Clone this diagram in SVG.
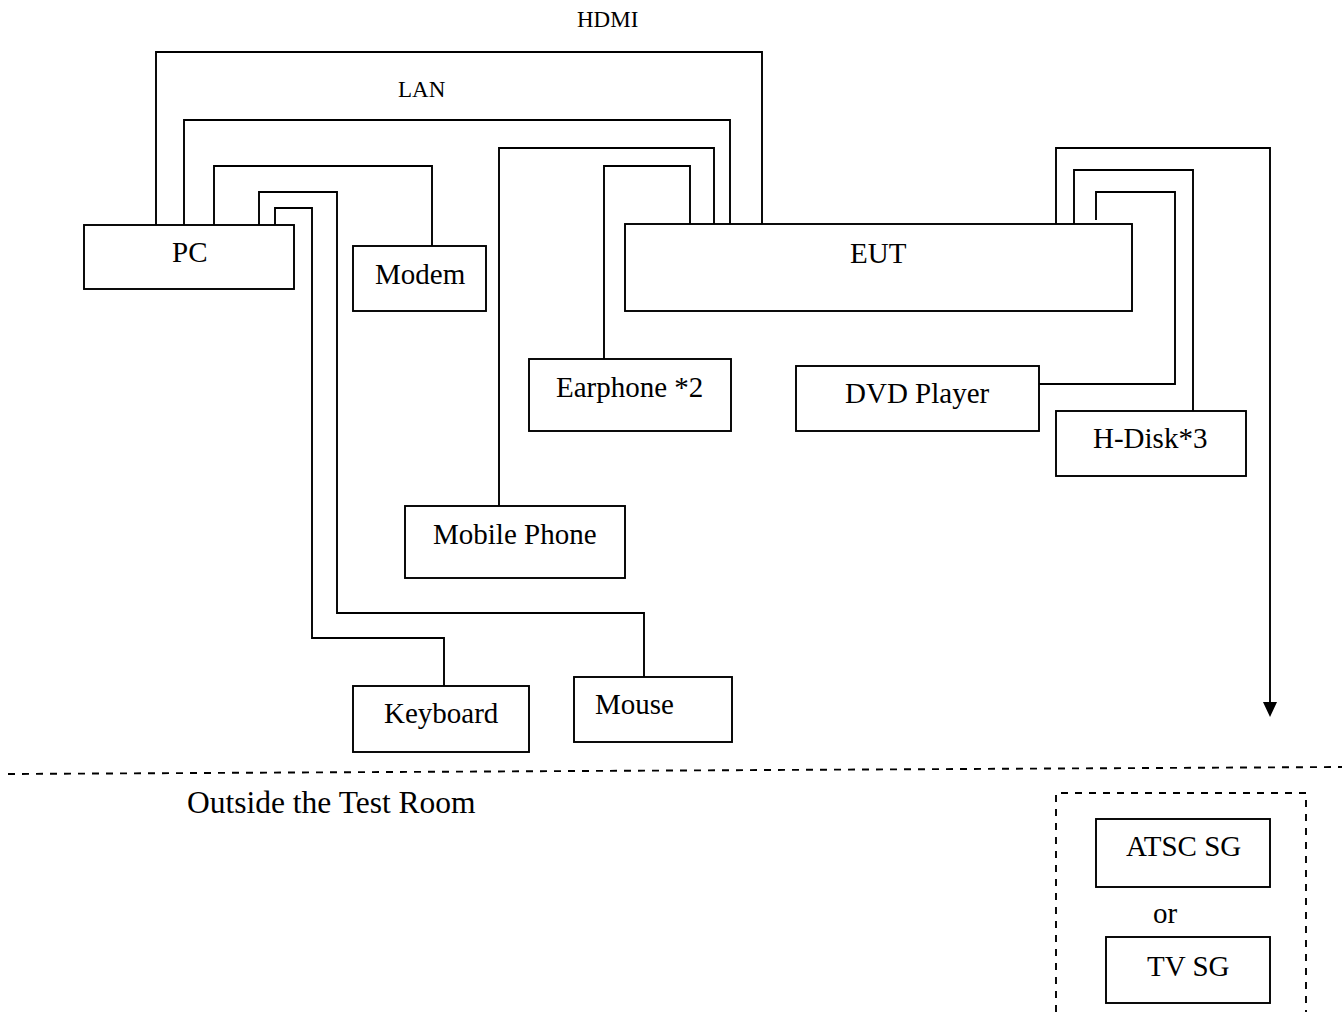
<svg xmlns="http://www.w3.org/2000/svg" width="1342" height="1012" viewBox="0 0 1342 1012">
<style>
  .box { fill: #fff; stroke: #000; stroke-width: 1.9; }
  .wire { fill: none; stroke: #000; stroke-width: 1.9; }
  .dash { fill: none; stroke: #000; stroke-width: 1.9; stroke-dasharray: 7 7; }
  .lbl { font-family: "Liberation Serif", "Times New Roman", serif; font-size: 29px; fill: #000; }
  .small { font-family: "Liberation Serif", "Times New Roman", serif; font-size: 23px; fill: #000; }
</style>
<rect x="0" y="0" width="1342" height="1012" fill="#fff"/>
<g id="connectors">
  <path class="wire" d="M156,225 V52 H762 V224"/>
  <path class="wire" d="M184,225 V120 H730 V224"/>
  <path class="wire" d="M214,225 V166 H432 V246"/>
  <path class="wire" d="M259,225 V192 H337 V613 H644 V677"/>
  <path class="wire" d="M275,225 V208 H312 V638 H444 V686"/>
  <path class="wire" d="M499,506 V148 H714 V224"/>
  <path class="wire" d="M604,359 V166 H690 V224"/>
  <path class="wire" d="M1056,224 V148 H1270 V703"/>
  <polygon points="1263,702 1277,702 1270,717" fill="#000"/>
  <path class="wire" d="M1074,224 V170 H1193 V411"/>
  <path class="wire" d="M1096,220 V192 H1175 V384 H1039"/>
  <text class="small" x="577" y="27">HDMI</text>
  <text class="small" x="398" y="97">LAN</text>
</g>
<g id="boundary">
  <line class="dash" x1="8" y1="774" x2="1342" y2="767"/>
  <text class="lbl" x="187" y="813" style="font-size:31.5px">Outside the Test Room</text>
  <path class="dash" d="M1056,1012 V793 H1306 V1012"/>
</g>
<g id="pc"><rect class="box" x="84" y="225" width="210" height="64"/><text class="lbl" x="172" y="262">PC</text></g>
<g id="modem"><rect class="box" x="353" y="246" width="133" height="65"/><text class="lbl" x="375" y="284">Modem</text></g>
<g id="eut"><rect class="box" x="625" y="224" width="507" height="87"/><text class="lbl" x="850" y="263">EUT</text></g>
<g id="earphone"><rect class="box" x="529" y="359" width="202" height="72"/><text class="lbl" x="556" y="397">Earphone *2</text></g>
<g id="dvd"><rect class="box" x="796" y="366" width="243" height="65"/><text class="lbl" x="845" y="403">DVD Player</text></g>
<g id="hdisk"><rect class="box" x="1056" y="411" width="190" height="65"/><text class="lbl" x="1093" y="448">H-Disk*3</text></g>
<g id="mobile"><rect class="box" x="405" y="506" width="220" height="72"/><text class="lbl" x="433" y="544">Mobile Phone</text></g>
<g id="keyboard"><rect class="box" x="353" y="686" width="176" height="66"/><text class="lbl" x="384" y="723">Keyboard</text></g>
<g id="mouse"><rect class="box" x="574" y="677" width="158" height="65"/><text class="lbl" x="595" y="714">Mouse</text></g>
<g id="atsc"><rect class="box" x="1096" y="819" width="174" height="68"/><text class="lbl" x="1126" y="856">ATSC SG</text></g>
<text class="lbl" x="1153" y="923">or</text>
<g id="tvsg"><rect class="box" x="1106" y="937" width="164" height="66"/><text class="lbl" x="1147" y="976">TV SG</text></g>
</svg>
